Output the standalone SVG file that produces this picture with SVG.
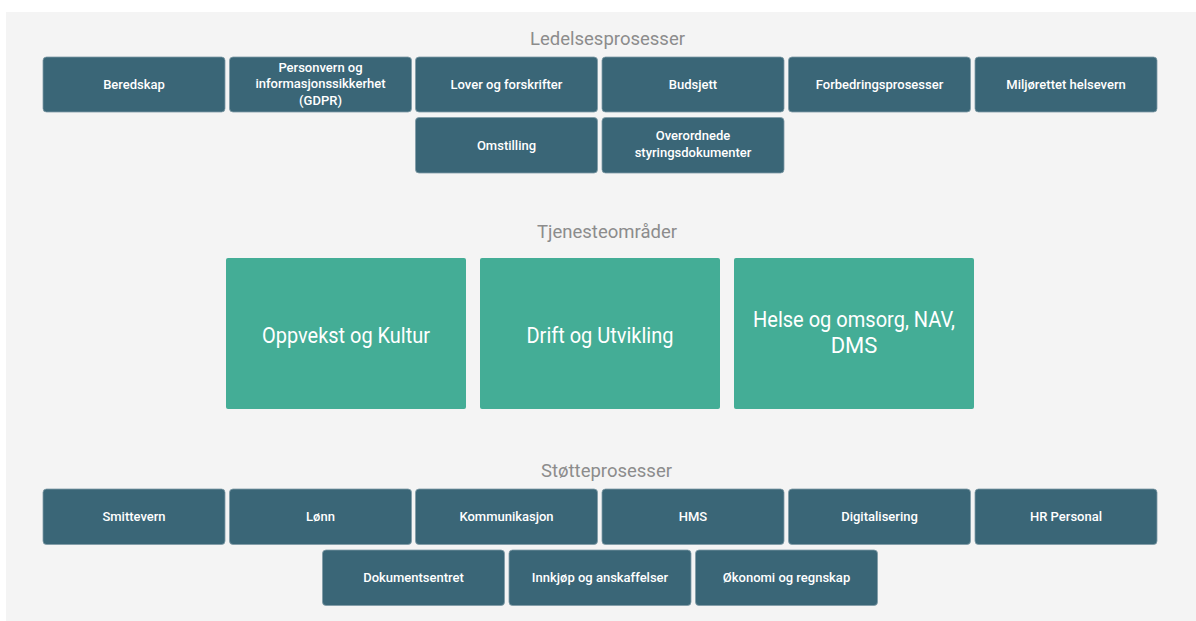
<svg xmlns="http://www.w3.org/2000/svg" width="1196" height="621" viewBox="0 0 1196 621">
<style>
.bg{fill:#f4f4f4}
.b{fill:#3a6677;stroke:#7f9aa6;stroke-width:0.8}
.t{fill:#44ad96}
.title{font-family:Roboto,"Liberation Sans",sans-serif;font-size:18.5px;fill:#8c8c8c;text-anchor:middle}
.s{font-family:Roboto,"Liberation Sans",sans-serif;font-size:13px;font-weight:500;fill:#ffffff;text-anchor:middle}
.l{font-family:Roboto,"Liberation Sans",sans-serif;font-size:22px;fill:#ffffff;text-anchor:middle}
</style>
<rect x="0" y="0" width="1196" height="621" fill="#ffffff"/>
<rect class="bg" x="6" y="12" width="1190" height="609"/>
<text class="title" x="607.5" y="45">Ledelsesprosesser</text>
<text class="title" x="607" y="238">Tjenesteområder</text>
<text class="title" x="606.5" y="476.5">Støtteprosesser</text>
<g id="connectors"></g>
<g id="beredskap"><rect class="b" x="43" y="57" width="182" height="55" rx="3.5"/><text class="s" x="134" y="88.5">Beredskap</text></g>
<g id="personvern"><rect class="b" x="229.5" y="57" width="182" height="55" rx="3.5"/><text class="s" x="320.5" y="71.8">Personvern og</text><text class="s" x="320.5" y="88.3">informasjonssikkerhet</text><text class="s" x="320.5" y="104.8">(GDPR)</text></g>
<g id="lover"><rect class="b" x="415.5" y="57" width="182" height="55" rx="3.5"/><text class="s" x="506.5" y="88.5">Lover og forskrifter</text></g>
<g id="budsjett"><rect class="b" x="602" y="57" width="182" height="55" rx="3.5"/><text class="s" x="693" y="88.5">Budsjett</text></g>
<g id="forbedring"><rect class="b" x="788.5" y="57" width="182" height="55" rx="3.5"/><text class="s" x="879.5" y="88.5">Forbedringsprosesser</text></g>
<g id="miljo"><rect class="b" x="975" y="57" width="182" height="55" rx="3.5"/><text class="s" x="1066" y="88.5">Miljørettet helsevern</text></g>
<g id="omstilling"><rect class="b" x="415.5" y="117.5" width="182" height="55.5" rx="3.5"/><text class="s" x="506.5" y="149.5">Omstilling</text></g>
<g id="overordnede"><rect class="b" x="602" y="117.5" width="182" height="55.5" rx="3.5"/><text class="s" x="693" y="140.2">Overordnede</text><text class="s" x="693" y="156.8">styringsdokumenter</text></g>
<g id="oppvekst"><rect class="t" x="226" y="258" width="240" height="151" rx="2"/><text class="l" x="346" y="342.5" textLength="168" lengthAdjust="spacingAndGlyphs">Oppvekst og Kultur</text></g>
<g id="drift"><rect class="t" x="480" y="258" width="240" height="151" rx="2"/><text class="l" x="600" y="342.5" textLength="147" lengthAdjust="spacingAndGlyphs">Drift og Utvikling</text></g>
<g id="helse"><rect class="t" x="734" y="258" width="240" height="151" rx="2"/><text class="l" x="854" y="326.7" textLength="202" lengthAdjust="spacingAndGlyphs">Helse og omsorg, NAV,</text><text class="l" x="854" y="353.3">DMS</text></g>
<g id="smittevern"><rect class="b" x="43" y="489" width="182" height="55.5" rx="3.5"/><text class="s" x="134" y="521">Smittevern</text></g>
<g id="lonn"><rect class="b" x="229.5" y="489" width="182" height="55.5" rx="3.5"/><text class="s" x="320.5" y="521">Lønn</text></g>
<g id="kommunikasjon"><rect class="b" x="415.5" y="489" width="182" height="55.5" rx="3.5"/><text class="s" x="506.5" y="521">Kommunikasjon</text></g>
<g id="hms"><rect class="b" x="602" y="489" width="182" height="55.5" rx="3.5"/><text class="s" x="693" y="521">HMS</text></g>
<g id="digitalisering"><rect class="b" x="788.5" y="489" width="182" height="55.5" rx="3.5"/><text class="s" x="879.5" y="521">Digitalisering</text></g>
<g id="hr"><rect class="b" x="975" y="489" width="182" height="55.5" rx="3.5"/><text class="s" x="1066" y="521">HR Personal</text></g>
<g id="dokumentsentret"><rect class="b" x="322.5" y="550" width="182" height="55.5" rx="3.5"/><text class="s" x="413.5" y="582">Dokumentsentret</text></g>
<g id="innkjop"><rect class="b" x="509" y="550" width="182" height="55.5" rx="3.5"/><text class="s" x="600" y="582">Innkjøp og anskaffelser</text></g>
<g id="okonomi"><rect class="b" x="695.5" y="550" width="182" height="55.5" rx="3.5"/><text class="s" x="786.5" y="582">Økonomi og regnskap</text></g>
</svg>
